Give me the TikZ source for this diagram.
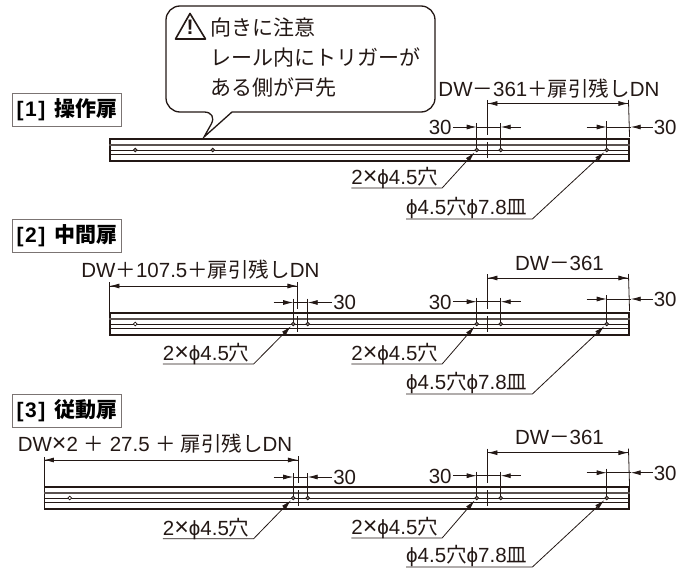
\documentclass[tikz,border=0pt]{standalone}
\usepackage{fontspec}
\setmainfont{Liberation Sans}
\newfontfamily\cjk{Noto Sans CJK JP}
\newcommand{\mul}{{\fontsize{25}{24}\selectfont ×}}
\usetikzlibrary{arrows.meta, positioning}
\definecolor{ink}{HTML}{231815}
\tikzset{
  rail/.style={draw=ink, line width=1.1pt, minimum height=22pt, inner sep=0pt},
  hole/.style={circle, draw=ink, fill=ink!60, line width=.7pt, minimum size=3.8pt, inner sep=0pt},
  openhole/.style={hole, fill=white},
  stage/.style={draw=ink!60, line width=.8pt, minimum width=109pt, minimum height=33pt, inner sep=0pt,
    font=\fontsize{21}{24}\selectfont\bfseries},
  dimtext/.style={text=ink, text height=14.6pt, text depth=0pt, inner ysep=0pt, inner xsep=1pt,
    font=\fontsize{20.5}{24}\selectfont},
  leadtext/.style={dimtext, inner xsep=0pt, inner ysep=3.5pt},
  extline/.style={color=ink, line width=.8pt},
  dimline/.style={color=ink, line width=.8pt, ->},
  leader/.style={color=ink, line width=.8pt, ->, shorten >=1pt}
}
\begin{document}
\begin{tikzpicture}[x=1pt, y=-1pt, on grid, >={Latex[length=10pt, width=5pt]}]
  \useasboundingbox (0,0) rectangle (692,567);
  \node[rail, minimum width=519pt] (rail1) at (369.5,150) {};
  \node[rail, minimum width=519pt] (rail2) at (369.5,324) {};
  \node[rail, minimum width=584.5pt] (rail3) at (336.75,498) {};
  \foreach \r in {rail1, rail2, rail3} {
    \draw[ink!75, line width=1.7pt] ([yshift=5pt]\r.west) -- ([yshift=5pt]\r.east);
    \draw[ink, line width=.9pt] (\r.west) -- (\r.east);
    \draw[ink, line width=1.7pt] ([yshift=-4.5pt]\r.west) -- ([yshift=-4.5pt]\r.east);
  }

  % [1]
  \node[stage] (st1) at (67,109.5) {[\kern1.5pt 1\kern1.5pt]\hspace{9pt}{\cjk 操作扉}};
  \node[hole] (h11) [right=23.5pt of rail1.west] {};
  \node[hole] (h12) [right=101pt of rail1.west] {};
  \node[hole] (h14) [right=365pt of rail1.west] {};
  \node[hole] (h15) [right=389pt of rail1.west] {};
  \node[hole] (h16) [right=495pt of rail1.west] {};
  \coordinate[right=378pt of rail1.west] (c1);
  \coordinate[above=46.5pt of c1] (d1a);
  \coordinate[right=141pt of d1a] (d1b);
  \node[dimtext] (t1) [above right=14.5pt and 61.5pt of d1a, anchor=center] {DW{\cjk －}361{\cjk ＋扉引残し}DN};
  \coordinate[above=23pt of h14] (d14);
  \coordinate[above=23pt of h15] (d15);
  \coordinate[above=23pt of h16] (d16);
  \coordinate[right=20pt of d15] (f15);
  \coordinate[left=20pt of d16] (f16);
  \coordinate[right=24pt of d16] (e16);
  \node[dimtext] (n14) [left=36.5pt of d14, anchor=center] {30};
  \node[dimtext] (n16) [right=34.5pt of e16, anchor=center] {30};
  \path[dimline]
    (d1a) edge (d1b)
    (d1b) edge (d1a)
    (n14) edge (d14)
    (f15) edge (d15)
    (f16) edge (d16)
    (n16) edge (e16);
  \path[extline]
    ([yshift=3.5pt]d1a) edge ([yshift=15pt]c1)
    ([yshift=8pt]c1) edge ([yshift=-8pt]c1)
    ([yshift=3.5pt]d1b) edge ([yshift=13pt]rail1.east)
    ([yshift=4pt]d14) edge (h14)
    ([yshift=4pt]d15) edge (h15)
    ([yshift=6pt]d16) edge (h16)
    (d14) edge (d15)
    (d16) edge (e16);
  \node[leadtext] (l14) [below left=27pt and 82pt of h14] {2\mul ϕ4.5{\cjk 穴}};
  \node[leadtext, inner ysep=4.5pt] (l16) [below left=57pt and 140pt of h16] {ϕ4.5{\cjk 穴}ϕ7.8{\cjk 皿}};
  \coordinate[right=4pt of l14.south east] (b14);
  \coordinate[right=5pt of l16.south east] (b16);
  \draw[leader] (l14.south west) -- (b14) -- (h14);
  \draw[leader] (l16.south west) -- (b16) -- (h16);

  % callout
  \draw[ink, fill=white, line width=1.3pt] (232,112) [rounded corners=14pt] -- (435,112) -- (435,6)
    -- (166,6) -- (166,112) -- (218,112) [sharp corners] -- (204,137) -- cycle;
  \draw[ink, line width=1.6pt, line join=round] (190,13.5) -- (205.5,39) -- (175.5,39) -- cycle;
  \node[text=ink, inner sep=0pt, font=\fontsize{21}{21}\selectfont\bfseries] (warn) at (190,27.5) {!};
  \node[text=ink, align=left, anchor=north west, inner sep=0pt, font=\cjk\fontsize{21}{30}\selectfont] (note) at (210.5,18)
    {向きに注意\\レール内にトリガーが\\ある側が戸先};

  % [2]
  \node[stage] (st2) at (67,235.5) {[\kern1.5pt 2\kern1.5pt]\hspace{9pt}{\cjk 中間扉}};
  \node[openhole] (h21) [right=23.5pt of rail2.west] {};
  \node[hole] (h23) [right=181.5pt of rail2.west] {};
  \node[hole] (h24) [right=196pt of rail2.west] {};
  \node[hole] (h25) [right=365pt of rail2.west] {};
  \node[hole] (h26) [right=389pt of rail2.west] {};
  \node[hole] (h27) [right=495pt of rail2.west] {};
  \coordinate[right=188pt of rail2.west] (c21);
  \coordinate[right=378pt of rail2.west] (c22);
  \coordinate[above=38pt of rail2.west] (d2a);
  \coordinate[right=188pt of d2a] (d2b);
  \coordinate[above=46pt of c22] (d2c);
  \coordinate[right=141pt of d2c] (d2d);
  \node[dimtext] (t2) [above right=16pt and 91pt of d2a, anchor=center] {DW{\cjk ＋}107.5{\cjk ＋扉引残し}DN};
  \node[dimtext] (t2r) [above right=15pt and 72pt of d2c, anchor=center] {DW{\cjk －}361};
  \coordinate[above=21.5pt of h23] (d23);
  \coordinate[above=21.5pt of h24] (d24);
  \coordinate[above=22.3pt of h25] (d25);
  \coordinate[above=22.3pt of h26] (d26);
  \coordinate[above=25pt of h27] (d27);
  \coordinate[left=19.5pt of d23] (f23);
  \coordinate[right=20pt of d26] (f26);
  \coordinate[left=20pt of d27] (f27);
  \coordinate[right=24pt of d27] (e27);
  \node[dimtext] (n24) [right=37pt of d24, anchor=center] {30};
  \node[dimtext] (n25) [left=36.5pt of d25, anchor=center] {30};
  \node[dimtext] (n27) [right=34.5pt of e27, anchor=center] {30};
  \path[dimline]
    (d2a) edge (d2b)
    (d2b) edge (d2a)
    (d2c) edge (d2d)
    (d2d) edge (d2c)
    (f23) edge (d23)
    (n24) edge (d24)
    (n25) edge (d25)
    (f26) edge (d26)
    (f27) edge (d27)
    (n27) edge (e27);
  \path[extline]
    ([yshift=4pt]d2a) edge ([yshift=12pt]rail2.west)
    ([yshift=4pt]d2b) edge ([yshift=15pt]c21)
    ([yshift=8pt]c21) edge ([yshift=-8pt]c21)
    ([yshift=4pt]d2c) edge ([yshift=15pt]c22)
    ([yshift=8pt]c22) edge ([yshift=-8pt]c22)
    ([yshift=4pt]d2d) edge ([yshift=13pt]rail2.east)
    ([yshift=4pt]d23) edge (h23)
    ([yshift=4pt]d24) edge (h24)
    ([yshift=4pt]d25) edge (h25)
    ([yshift=4pt]d26) edge (h26)
    ([yshift=4pt]d27) edge (h27)
    (d23) edge (d24)
    (d25) edge (d26)
    (d27) edge (e27);
  \node[leadtext] (l23) [below left=29pt and 87pt of h23] {2\mul ϕ4.5{\cjk 穴}};
  \node[leadtext] (l25) [below left=29pt and 82pt of h25] {2\mul ϕ4.5{\cjk 穴}};
  \node[leadtext, inner ysep=4.5pt] (l27) [below left=58pt and 140pt of h27] {ϕ4.5{\cjk 穴}ϕ7.8{\cjk 皿}};
  \coordinate[right=4pt of l23.south east] (b23);
  \coordinate[right=4pt of l25.south east] (b25);
  \coordinate[right=5pt of l27.south east] (b27);
  \draw[leader] (l23.south west) -- (b23) -- (h23);
  \draw[leader] (l25.south west) -- (b25) -- (h25);
  \draw[leader] (l27.south west) -- (b27) -- (h27);

  % [3]
  \node[stage] (st3) at (67,410.5) {[\kern1.5pt 3\kern1.5pt]\hspace{9pt}{\cjk 従動扉}};
  \node[openhole] (h31) [right=23.5pt of rail3.west] {};
  \node[hole] (h33) [right=247pt of rail3.west] {};
  \node[hole] (h34) [right=261.5pt of rail3.west] {};
  \node[hole] (h35) [right=430.5pt of rail3.west] {};
  \node[hole] (h36) [right=454.5pt of rail3.west] {};
  \node[hole] (h37) [right=560.5pt of rail3.west] {};
  \coordinate[right=254pt of rail3.west] (c31);
  \coordinate[right=443.5pt of rail3.west] (c32);
  \coordinate[above=38pt of rail3.west] (d3a);
  \coordinate[right=254pt of d3a] (d3b);
  \coordinate[above=45.3pt of c32] (d3c);
  \coordinate[right=141pt of d3c] (d3d);
  \node[dimtext] (t3) [above right=16pt and 111pt of d3a, anchor=center] {DW\mul 2 {\cjk ＋} 27.5 {\cjk ＋ 扉引残し}DN};
  \node[dimtext] (t3r) [above right=15.7pt and 72pt of d3c, anchor=center] {DW{\cjk －}361};
  \coordinate[above=21pt of h33] (d33);
  \coordinate[above=21pt of h34] (d34);
  \coordinate[above=22.3pt of h35] (d35);
  \coordinate[above=22.3pt of h36] (d36);
  \coordinate[above=25.3pt of h37] (d37);
  \coordinate[left=19.5pt of d33] (f33);
  \coordinate[right=20pt of d36] (f36);
  \coordinate[left=20pt of d37] (f37);
  \coordinate[right=24pt of d37] (e37);
  \node[dimtext] (n34) [right=37pt of d34, anchor=center] {30};
  \node[dimtext] (n35) [left=36.5pt of d35, anchor=center] {30};
  \node[dimtext] (n37) [right=34.5pt of e37, anchor=center] {30};
  \path[dimline]
    (d3a) edge (d3b)
    (d3b) edge (d3a)
    (d3c) edge (d3d)
    (d3d) edge (d3c)
    (f33) edge (d33)
    (n34) edge (d34)
    (n35) edge (d35)
    (f36) edge (d36)
    (f37) edge (d37)
    (n37) edge (e37);
  \path[extline]
    ([yshift=3pt]d3a) edge ([yshift=11pt]rail3.west)
    ([yshift=4pt]d3b) edge ([yshift=15pt]c31)
    ([yshift=8pt]c31) edge ([yshift=-8pt]c31)
    ([yshift=4pt]d3c) edge ([yshift=15pt]c32)
    ([yshift=8pt]c32) edge ([yshift=-8pt]c32)
    ([yshift=4pt]d3d) edge ([yshift=12pt]rail3.east)
    ([yshift=4pt]d33) edge (h33)
    ([yshift=4pt]d34) edge (h34)
    ([yshift=4pt]d35) edge (h35)
    ([yshift=4pt]d36) edge (h36)
    ([yshift=4pt]d37) edge (h37)
    (d33) edge (d34)
    (d35) edge (d36)
    (d37) edge (e37);
  \node[leadtext] (l33) [below left=29.7pt and 87pt of h33] {2\mul ϕ4.5{\cjk 穴}};
  \node[leadtext] (l35) [below left=29pt and 82pt of h35] {2\mul ϕ4.5{\cjk 穴}};
  \node[leadtext, inner ysep=4.5pt] (l37) [below left=57pt and 140pt of h37] {ϕ4.5{\cjk 穴}ϕ7.8{\cjk 皿}};
  \coordinate[right=4pt of l33.south east] (b33);
  \coordinate[right=4pt of l35.south east] (b35);
  \coordinate[right=5pt of l37.south east] (b37);
  \draw[leader] (l33.south west) -- (b33) -- (h33);
  \draw[leader] (l35.south west) -- (b35) -- (h35);
  \draw[leader] (l37.south west) -- (b37) -- (h37);
\end{tikzpicture}
\end{document}
